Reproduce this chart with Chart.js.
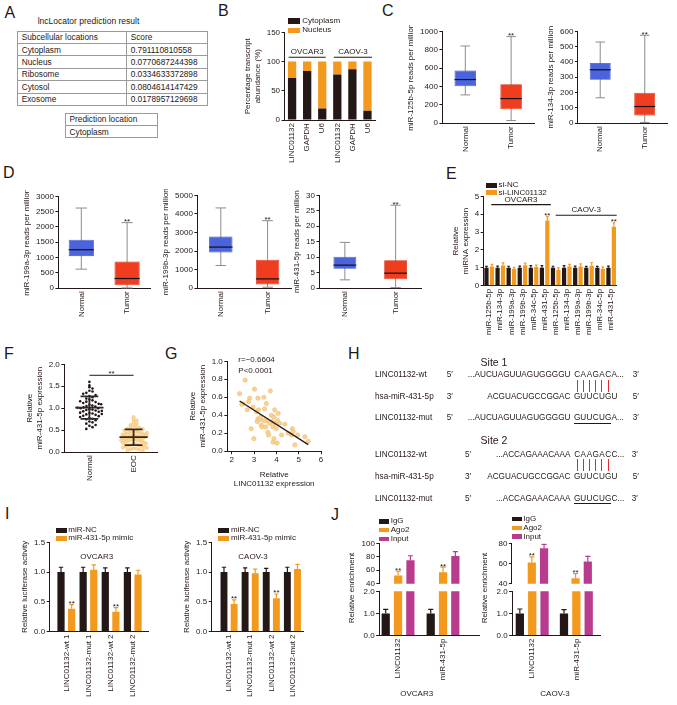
<!DOCTYPE html>
<html><head><meta charset="utf-8">
<script src="https://cdn.jsdelivr.net/npm/chart.js@4.4.1/dist/chart.umd.min.js"></script>
<style>
html,body{margin:0;padding:0;background:#fff}
body{width:677px;height:705px;position:relative;overflow:hidden;font-family:"Liberation Sans",Arial,Helvetica,sans-serif;color:#231815}
.abs{position:absolute}
.t{position:absolute;white-space:nowrap;line-height:1}
.r{position:absolute}
</style></head><body>
<script>
// ================= DATA =================
const locations = ['Cytoplasm','Nucleus','Ribosome','Cytosol','Exosome'];
const locScores = ['0.791110810558','0.0770687244398','0.0334633372898','0.0804614147429','0.0178957129698'];
const predLocation = 'Cytoplasm';

const fracCats = ['LINC01132','GAPDH','U6','LINC01132','GAPDH','U6'];
const cytoplasmPct = [72,84,20,78,87,16];
const nucleusPct = [28,16,80,22,13,84];

const boxCats = ['Normal','Tumor'];
// [min, q1, median, q3, max]
const mir125bNormal = [308,402,475,573,840];
const mir125bTumor  = [29,152,268,424,942];
const mir134Normal  = [166,284,349,393,530];
const mir134Tumor   = [5,50,109,199,574];
const mir199aNormal = [622,1047,1256,1583,2617];
const mir199aTumor  = [10,98,317,873,2140];
const mir199bNormal = [1220,1922,2214,2786,4320];
const mir199bTumor  = [54,194,502,1528,3634];
const mir431Normal  = [2.7,6.25,7.45,10.2,14.8];
const mir431Tumor   = [0.2,2.9,4.86,9.07,26.8];

const mirCats = ['miR-125b-5p','miR-134-3p','miR-199a-3p','miR-199b-3p','miR-34c-5p','miR-431-5p',
                 'miR-125b-5p','miR-134-3p','miR-199a-3p','miR-199b-3p','miR-34c-5p','miR-431-5p'];
const siNC      = [1,1,1,1,1,1,1,1,1,1,1,1];
const siNCErr   = [0.08,0.1,0.09,0.1,0.12,0.12,0.09,0.12,0.1,0.08,0.08,0.1];
const siLINC    = [1.08,1.13,0.95,1.15,1.05,3.65,0.9,1.07,1.08,1.12,0.95,3.3];
const siLINCErr = [0.12,0.15,0.08,0.12,0.1,0.22,0.1,0.12,0.14,0.18,0.1,0.22];

const fCats = ['Normal','EOC'];
const fNormal = [1.60,1.52,1.48,1.45,1.40,1.38,1.35,1.30,1.28,1.25,1.22,1.20,1.18,1.15,1.14,1.12,1.10,1.08,1.06,1.05,
                 1.04,1.02,1.00,1.00,0.98,0.97,0.96,0.95,0.93,0.92,0.90,0.89,0.88,0.86,0.85,0.83,0.82,0.80,0.78,0.76,
                 0.75,0.73,0.70,0.68,0.65,0.62,0.60,0.57,0.53,1.33,1.16,1.09,1.01,0.94,0.87];
const fEOC = [0.80,0.75,0.72,0.68,0.65,0.62,0.60,0.58,0.56,0.55,0.53,0.52,0.50,0.49,0.48,0.47,0.46,0.45,0.44,0.43,
              0.42,0.41,0.40,0.40,0.39,0.38,0.37,0.36,0.36,0.35,0.34,0.34,0.33,0.32,0.31,0.30,0.30,0.29,0.28,0.28,
              0.27,0.26,0.25,0.25,0.24,0.23,0.22,0.21,0.20,0.19,0.18,0.17,0.16,0.15,0.14,0.13,0.12,0.11,0.10,0.09,
              0.08,0.07,0.06,0.05,0.04,0.35,0.31,0.27,0.38,0.44];

const gLinc = [2.35,2.60,2.50,2.45,2.69,2.80,2.75,2.87,3.02,2.95,2.99,3.17,3.20,3.17,3.14,3.25,3.32,3.35,3.44,3.47,
               3.55,3.52,3.59,3.62,3.65,3.73,3.77,3.80,3.85,3.89,3.92,3.95,4.00,3.89,3.85,4.03,4.08,4.05,4.15,4.23,
               4.38,4.53,4.72,4.75,4.68,4.83,4.95,5.28,5.43,3.70,3.44,3.10,3.29];
const gMir  = [0.64,0.79,0.53,0.52,0.46,0.59,0.55,0.25,0.69,0.49,0.14,0.59,0.46,0.36,0.33,0.35,0.29,0.27,0.60,0.47,
               0.53,0.27,0.34,0.21,0.18,0.67,0.40,0.33,0.27,0.38,0.46,0.31,0.25,0.14,0.10,0.09,0.42,0.34,0.31,0.18,
               0.30,0.20,0.25,0.22,0.18,0.07,0.18,0.16,0.11,0.31,0.34,0.44,0.38];
const gTicksX = [2,3,4,5,6];

const lucCats = ['LINC01132-wt 1','LINC01132-mut 1','LINC01132-wt 2','LINC01132-mut 2'];
const ovNC = [1,1,1,1],       ovNCErr = [0.08,0.08,0.07,0.07];
const ovMimic = [0.38,1.04,0.33,0.96], ovMimicErr = [0.07,0.08,0.07,0.07];
const caNC = [1,1,1,1],       caNCErr = [0.08,0.07,0.06,0.08];
const caMimic = [0.46,0.98,0.56,1.05], caMimicErr = [0.07,0.07,0.07,0.08];

const ripCats = ['LINC01132','miR-431-5p'];
const ovIgG = [1,1],   ovIgGErr = [0.18,0.18];
const ovAgo2 = [52,57], ovAgo2Err = [6.5,7.5];
const ovInput = [75,81], ovInputErr = [6.5,6.5];
const caIgG = [1,1],   caIgGErr = [0.2,0.17];
const caAgo2 = [61,45.5], caAgo2Err = [5.5,4.5];
const caInput = [75,62], caInputErr = [4,5];

// ================= STYLE =================
const BLACK='#231815', ORANGE='#f39a1e', MAGENTA='#b83b8e', BLUE='#4b63db', BLUE_D='#3b50c0',
      RED='#f03d1f', RED_D='#d33016', GRAY='#8c8c8c', LINE_RED='#e8262c';
const FONT = '"Liberation Sans", Arial, sans-serif';
Chart.defaults.font.family = FONT;
Chart.defaults.font.size = 8;
Chart.defaults.color = BLACK;
Chart.defaults.animation = false;
Chart.defaults.plugins.legend.display = false;
Chart.defaults.plugins.tooltip.enabled = false;

// ================= HTML helpers =================
function T(s, x, y, fs, align, extra) {
  const d = document.createElement('div'); d.className = 't'; d.textContent = s;
  d.style.fontSize = fs + 'px'; d.style.left = x + 'px'; d.style.top = (y - fs / 2) + 'px';
  if (align === 'c') d.style.transform = 'translateX(-50%)';
  else if (align === 'r') d.style.transform = 'translateX(-100%)';
  if (extra) Object.assign(d.style, extra);
  document.body.appendChild(d); return d;
}
function R(x, y, w, h, c) {
  const d = document.createElement('div'); d.className = 'r';
  Object.assign(d.style, {left: x + 'px', top: y + 'px', width: w + 'px', height: h + 'px', background: c});
  document.body.appendChild(d); return d;
}
function VT(s, cx, cy, fs) {
  const d = document.createElement('div'); d.className = 't'; d.textContent = s;
  Object.assign(d.style, {fontSize: fs + 'px', left: cx + 'px', top: cy + 'px', transform: 'translate(-50%,-50%) rotate(-90deg)'});
  document.body.appendChild(d); return d;
}

// ================= Chart helpers =================
function makeChart(rect, cfg) {
  const div = document.createElement('div'); div.className = 'abs';
  const cv = document.createElement('canvas');
  const W0 = Math.round(rect.w + 140), H0 = Math.round(rect.h + 140);
  cv.width = W0; cv.height = H0; cv.style.width = W0 + 'px'; cv.style.height = H0 + 'px';
  div.appendChild(cv); document.body.appendChild(div);
  cfg.options = Object.assign({responsive:false, maintainAspectRatio:false, animation:false, devicePixelRatio:1,
    events:[], layout:{padding:{top:6,right:6,left:2,bottom:2}}}, cfg.options || {});
  const ch = new Chart(cv, cfg);
  let ca = ch.chartArea;
  const W = W0 + (rect.w - (ca.right - ca.left));
  const H = H0 + (rect.h - (ca.bottom - ca.top));
  ch.resize(Math.round(W), Math.round(H));
  ca = ch.chartArea;
  div.style.left = Math.round(rect.x - ca.left) + 'px';
  div.style.top = Math.round(rect.y - ca.top) + 'px';
  return ch;
}
function yLin(min, max, step, title, dec) {
  return { type:'linear', min, max,
    afterBuildTicks: s => { const t = []; for (let v = min; v <= max + 1e-9; v += step) t.push({value: +v.toFixed(6)}); s.ticks = t; },
    ticks:{ padding:1.5, callback: v => dec == null ? String(v) : Number(v).toFixed(dec) },
    grid:{ display:true, drawOnChartArea:false, drawTicks:true, tickLength:3, color:BLACK, lineWidth:1 },
    border:{ display:true, color:BLACK, width:1 },
    title:{ display: !!title, text: title || '', padding:{top:0,bottom:3}, color:BLACK } };
}
function xCat() {
  return { type:'category', offset:true,
    ticks:{ autoSkip:false, maxRotation:90, minRotation:90, padding:3 },
    grid:{ display:true, drawOnChartArea:false, drawTicks:false, color:BLACK },
    border:{ display:true, color:BLACK, width:1 } };
}
function xIdx(labels, min, max, start) {
  start = start || 0;
  return { type:'linear', min, max, offset:false,
    afterBuildTicks: s => { s.ticks = labels.map((_, i) => ({value: i + start})); },
    ticks:{ autoSkip:false, maxRotation:90, minRotation:90, padding:3, callback: v => labels[Math.round(v - start)] },
    grid:{ display:true, drawOnChartArea:false, drawTicks:false, color:BLACK, offset:false },
    border:{ display:true, color:BLACK, width:1 } };
}
const pts = arr => arr.map((y, i) => ({x: i, y}));

// error bars + stars, drawn through the chart's scales
const errPlugin = {
  id:'errbars',
  afterDatasetsDraw(chart) {
    const {ctx, chartArea:a} = chart; const ys = chart.scales.y;
    ctx.save(); ctx.beginPath(); ctx.rect(a.left - 6, a.top, a.right - a.left + 12, a.bottom - a.top); ctx.clip();
    chart.data.datasets.forEach((ds, di) => {
      if (!ds.errors) return;
      const meta = chart.getDatasetMeta(di);
      meta.data.forEach((el, i) => {
        const raw = ds.data[i]; const v = typeof raw === 'object' ? raw.y : raw;
        const yTop = ys.getPixelForValue(v + ds.errors[i]);
        const yV = ys.getPixelForValue(v);
        const cw = el.width * 0.62;
        ctx.strokeStyle = ds.backgroundColor; ctx.lineWidth = 1.2;
        ctx.beginPath(); ctx.moveTo(el.x, yV); ctx.lineTo(el.x, yTop);
        ctx.moveTo(el.x - cw / 2, yTop); ctx.lineTo(el.x + cw / 2, yTop); ctx.stroke();
        if (ds.stars && ds.stars[i]) {
          ctx.fillStyle = BLACK; ctx.font = '8px ' + FONT; ctx.textAlign = 'center'; ctx.textBaseline = 'alphabetic';
          ctx.fillText('**', el.x, yTop + 1.3);
        }
      });
    });
    ctx.restore();
  }
};
function groupPlugin(items) {
  return { id:'groups', afterDatasetsDraw(chart) {
    const {ctx} = chart; const xs = chart.scales.x, ys = chart.scales.y;
    ctx.save(); ctx.strokeStyle = BLACK; ctx.fillStyle = BLACK; ctx.lineWidth = 1.2;
    ctx.font = '8px ' + FONT; ctx.textAlign = 'center'; ctx.textBaseline = 'alphabetic';
    items.forEach(g => {
      const x1 = xs.getPixelForValue(g.from), x2 = xs.getPixelForValue(g.to), y = ys.getPixelForValue(g.y);
      ctx.beginPath(); ctx.moveTo(x1, y); ctx.lineTo(x2, y); ctx.stroke();
      ctx.fillText(g.label, (x1 + x2) / 2, y - 3);
    });
    ctx.restore();
  }};
}
function boxPlugin(stats, stars) {
  return { id:'boxes',
    beforeDatasetsDraw(chart) {
      const {ctx} = chart; const ys = chart.scales.y; const els = chart.getDatasetMeta(0).data;
      ctx.save(); ctx.strokeStyle = GRAY; ctx.lineWidth = 1;
      stats.forEach((s, i) => {
        const x = els[i].x, cw = els[i].width * 0.45;
        const y0 = ys.getPixelForValue(s[0]), y4 = ys.getPixelForValue(s[4]);
        ctx.beginPath(); ctx.moveTo(x, y0); ctx.lineTo(x, y4);
        ctx.moveTo(x - cw / 2, y0); ctx.lineTo(x + cw / 2, y0);
        ctx.moveTo(x - cw / 2, y4); ctx.lineTo(x + cw / 2, y4); ctx.stroke();
      });
      ctx.restore();
    },
    afterDatasetsDraw(chart) {
      const {ctx} = chart; const ys = chart.scales.y; const els = chart.getDatasetMeta(0).data;
      ctx.save(); ctx.strokeStyle = '#111'; ctx.lineWidth = 1.2;
      stats.forEach((s, i) => {
        const x = els[i].x, w = els[i].width, ym = ys.getPixelForValue(s[2]);
        ctx.beginPath(); ctx.moveTo(x - w / 2, ym); ctx.lineTo(x + w / 2, ym); ctx.stroke();
        if (stars[i]) {
          ctx.fillStyle = BLACK; ctx.font = '8px ' + FONT; ctx.textAlign = 'center'; ctx.textBaseline = 'alphabetic';
          ctx.fillText('**', x, ys.getPixelForValue(s[4]) + 1.3);
        }
      });
      ctx.restore();
    }
  };
}
function boxChart(rect, normal, tumor, min, max, step, title, bp) {
  return makeChart(rect, { type:'bar',
    data:{ labels: boxCats, datasets:[{ data:[[normal[1], normal[3]], [tumor[1], tumor[3]]],
      backgroundColor:[BLUE, RED], borderColor:[BLUE_D, RED_D], borderWidth:0.8, borderSkipped:false }] },
    options:{ datasets:{bar:{barPercentage:bp, categoryPercentage:1}},
      scales:{ x: xCat(), y: yLin(min, max, step, title) } },
    plugins:[boxPlugin([normal, tumor], [false, true])] });
}
function swarm(vals, center, maxHalf) {
  const binW = 0.1, counts = {}, seen = {};
  vals.forEach(v => { const b = Math.floor(v / binW); counts[b] = (counts[b] || 0) + 1; });
  return vals.map(v => {
    const b = Math.floor(v / binW); const j = seen[b] = (seen[b] || 0); seen[b]++;
    const dx = Math.min(0.07, 2 * maxHalf / counts[b]);
    const off = j === 0 ? 0 : (j % 2 ? 1 : -1) * Math.ceil(j / 2) * dx;
    return {x: center + off, y: v};
  });
}
function meanSdPlugin(sig) {
  return { id:'meansd', afterDatasetsDraw(chart) {
    const {ctx} = chart; const xs = chart.scales.x, ys = chart.scales.y;
    ctx.save();
    chart.data.datasets.forEach(ds => {
      if (!ds.values) return;
      const n = ds.values.length, m = ds.values.reduce((a, b) => a + b, 0) / n;
      const sd = Math.sqrt(ds.values.reduce((a, b) => a + (b - m) * (b - m), 0) / (n - 1));
      const xc = xs.getPixelForValue(ds.center);
      const hw = xs.getPixelForValue(ds.center + 0.32) - xc, cw = xs.getPixelForValue(ds.center + 0.2) - xc;
      const ym = ys.getPixelForValue(m), yh = ys.getPixelForValue(m + sd), yl = ys.getPixelForValue(m - sd);
      ctx.strokeStyle = ds.meanColor; ctx.lineWidth = 1.8;
      ctx.beginPath(); ctx.moveTo(xc - hw, ym); ctx.lineTo(xc + hw, ym);
      ctx.moveTo(xc, yh); ctx.lineTo(xc, yl);
      ctx.moveTo(xc - cw, yh); ctx.lineTo(xc + cw, yh);
      ctx.moveTo(xc - cw, yl); ctx.lineTo(xc + cw, yl); ctx.stroke();
    });
    const x1 = xs.getPixelForValue(sig.from), x2 = xs.getPixelForValue(sig.to), y = ys.getPixelForValue(sig.y);
    ctx.strokeStyle = BLACK; ctx.lineWidth = 1;
    ctx.beginPath(); ctx.moveTo(x1, y); ctx.lineTo(x2, y); ctx.stroke();
    ctx.fillStyle = BLACK; ctx.font = '8px ' + FONT; ctx.textAlign = 'center'; ctx.textBaseline = 'alphabetic';
    ctx.fillText('**', (x1 + x2) / 2, y + 0.5);
    ctx.restore();
  }};
}
function linFit(xs, ys) {
  const n = xs.length, mx = xs.reduce((a, b) => a + b, 0) / n, my = ys.reduce((a, b) => a + b, 0) / n;
  let sxy = 0, sxx = 0; xs.forEach((x, i) => { sxy += (x - mx) * (ys[i] - my); sxx += (x - mx) * (x - mx); });
  const b = sxy / sxx, a = my - b * mx; return x => a + b * x;
}

// ================= PANEL LABELS =================
[['A',4.5,12.5],['B',218,11],['C',382,11],['D',3,172.5],['E',446,173.5],['F',4,354],['G',165,354],
 ['H',348,353.5],['I',5,514],['J',331,514.5]].forEach(p => T(p[0], p[1], p[2], 16));

// ================= A: table =================
T('lncLocator prediction result', 37.7, 21.5, 8.5);
(function(){
  const x0 = 16.7, x1 = 125.7, x2 = 207.3, y0 = 30.7, rh = 12.38, C = '#9a9a9a';
  const rows = [['Subcellular locations','Score']].concat(locations.map((l, i) => [l, locScores[i]]));
  for (let k = 0; k <= rows.length; k++) R(x0, y0 + k * rh, x2 - x0, 1, C);
  [x0, x1, x2].forEach(x => R(x, y0, 1, rh * rows.length + 1, C));
  rows.forEach((r, k) => { T(r[0], x0 + 5, y0 + rh * (k + 0.5) + 0.5, 8.3); T(r[1], x1 + 5, y0 + rh * (k + 0.5) + 0.5, 8.3); });
  const bx0 = 65, bx1 = 156.7, by0 = 112.7, brh = 12.3;
  for (let k = 0; k <= 2; k++) R(bx0, by0 + k * brh, bx1 - bx0, 1, C);
  [bx0, bx1].forEach(x => R(x, by0, 1, brh * 2 + 1, C));
  T('Prediction location', bx0 + 4.5, by0 + brh * 0.5 + 0.5, 8.3);
  T(predLocation, bx0 + 4.5, by0 + brh * 1.5 + 0.5, 8.3);
})();

// ================= B =================
makeChart({x:285, y:32, w:90, h:88}, { type:'bar',
  data:{ labels: fracCats, datasets:[
    {data: cytoplasmPct, backgroundColor: BLACK, stack:'s'},
    {data: nucleusPct, backgroundColor: ORANGE, stack:'s'}] },
  options:{ datasets:{bar:{barPercentage:0.55, categoryPercentage:1}},
    scales:{ x: Object.assign(xCat(), {stacked:true}), y: Object.assign(yLin(0,150,50,['Percentage transcript','abundance (%)']), {stacked:true}) } },
  plugins:[groupPlugin([{label:'OVCAR3', from:-0.23, to:2.23, y:107.4},{label:'CAOV-3', from:2.77, to:5.3, y:107.4}])] });
R(288.3, 18.3, 12, 5.5, BLACK); T('Cytoplasm', 302.3, 20.7, 8);
R(288.3, 27.7, 12, 5.5, ORANGE); T('Nucleus', 302.3, 30, 8);

// ================= C =================
boxChart({x:442, y:31, w:92, h:92}, mir125bNormal, mir125bTumor, 0, 1000, 200, 'miR-125b-5p reads per million', 0.47);
boxChart({x:578, y:31, w:89, h:91.7}, mir134Normal, mir134Tumor, 0, 600, 100, 'miR-134-3p reads per million', 0.47);

// ================= D =================
boxChart({x:58.7, y:196, w:91.3, h:91.7}, mir199aNormal, mir199aTumor, 0, 3000, 500, 'miR-199a-3p reads per million', 0.55);
boxChart({x:197.7, y:195.7, w:94, h:92.6}, mir199bNormal, mir199bTumor, 0, 5000, 1000, 'miR-199b-3p reads per million', 0.5);
boxChart({x:319.3, y:195.7, w:101.7, h:92.6}, mir431Normal, mir431Tumor, 0, 30, 5, 'miR-431-5p reads per million', 0.45);

// ================= E =================
makeChart({x:484, y:196, w:134, h:89.7}, { type:'bar',
  data:{ labels: mirCats, datasets:[
    {data: siNC, backgroundColor: BLACK, errors: siNCErr},
    {data: siLINC, backgroundColor: ORANGE, errors: siLINCErr, stars:[0,0,0,0,0,1,0,0,0,0,0,1]}] },
  options:{ datasets:{bar:{barPercentage:0.78, categoryPercentage:0.98}},
    scales:{ x: xCat(), y: yLin(0,5,1,['Relative','miRNA expression']) } },
  plugins:[errPlugin, groupPlugin([{label:'OVCAR3', from:0.19, to:5.56, y:4.54},{label:'CAOV-3', from:6.0, to:11.5, y:3.94}])] });
R(486, 182.5, 10.5, 5, BLACK); T('si-NC', 498.5, 185, 8);
R(486, 190.2, 10.5, 5, ORANGE); T('si-LINC01132', 498.5, 192.7, 8);

// ================= F =================
makeChart({x:64.3, y:364, w:92.4, h:88.3}, { type:'scatter',
  data:{ datasets:[
    {data: swarm(fNormal, 1, 0.3), values: fNormal, center:1, meanColor:'#2a2a2a', pointRadius:1.3, backgroundColor:BLACK, borderWidth:0},
    {data: swarm(fEOC, 2, 0.3), values: fEOC, center:2, meanColor:'#3a2614', pointRadius:1.6, backgroundColor:'#fbdca0', borderColor:'#f1b75a', borderWidth:0.5}] },
  options:{ scales:{ x: xIdx(fCats, 0.432, 2.53, 1), y: yLin(0,2,0.5,['Relative','miR-431-5p expression'],1) } },
  plugins:[meanSdPlugin({from:1, to:2, y:1.75})] });

// ================= G =================
(function(){
  const fit = linFit(gLinc, gMir);
  const xmin = Math.min(...gLinc), xmax = Math.max(...gLinc);
  makeChart({x:227.7, y:361.7, w:93.3, h:90}, { type:'scatter',
    data:{ datasets:[
      {type:'line', data:[{x:xmin, y:fit(xmin)},{x:xmax, y:fit(xmax)}], borderColor:BLACK, borderWidth:1.3, pointRadius:0},
      {data: gLinc.map((x, i) => ({x, y: gMir[i]})), pointRadius:2.1, backgroundColor:'#f9d396', borderColor:'#f0b562', borderWidth:0.6}] },
    options:{ scales:{
      x:{ type:'linear', min:1.8, max:6, afterBuildTicks: s => { s.ticks = gTicksX.map(v => ({value:v})); },
          ticks:{ padding:1, maxRotation:0, callback: v => String(v) },
          grid:{ display:true, drawOnChartArea:false, drawTicks:true, tickLength:3, color:BLACK },
          border:{ display:true, color:BLACK, width:1 },
          title:{ display:true, text:['Relative','LINC01132 expression'], padding:{top:4,bottom:0} } },
      y: yLin(0,1,0.2,['Relative','miR-431-5p expression'],1) } } });
})();
T('r=−0.6604', 238.3, 359.5, 8);
T('P<0.0001', 238.3, 370.5, 8);

// ================= H =================
(function(){
  const fs = 8.2, px = 574, cw = 6.2;
  function row(y, label, p1, p1x, pre, pair, tail, p2, p2x, ul) {
    T(label, 375, y, fs); T(p1, p1x, y, fs); T(pre, 570.5, y, fs, 'r');
    pair.split('').forEach((c, i) => T(c, px + cw * i + cw / 2, y, fs, 'c'));
    T(tail, px + cw * 6 + 0.3, y, fs); T(p2, p2x, y, fs);
    if (ul) R(px, Math.round(y + 4.4), cw * 6, 1, BLACK);
  }
  T('Site 1', 494, 362, 10.5, 'c');
  row(375, 'LINC01132-wt', '5′', 446.7, '...AUCUAGUUAGUGGGGU', 'CAAGAC', 'A...', '3′', 632.7);
  row(396.7, 'hsa-miR-431-5p', '3′', 446.7, 'ACGUACUGCCGGAC', 'GUUCUG', 'U', '5′', 632.7);
  row(418.3, 'LINC01132-mut', '5′', 446.7, '...AUCUAGUUAGUGGGGU', 'GUUCUG', 'A...', '3′', 632.7, true);
  T('Site 2', 494, 440, 10.5, 'c');
  row(455, 'LINC01132-wt', '5′', 465, '...ACCAGAAACAAA', 'CAAGAC', 'C...', '3′', 631.7);
  row(476.7, 'hsa-miR-431-5p', '3′', 465, 'ACGUACUGCCGGAC', 'GUUCUG', 'U', '5′', 632.7);
  row(499, 'LINC01132-mut', '5′', 465, '...ACCAGAAACAAA', 'GUUCUG', 'C...', '3′', 631.7, true);
  for (let i = 0; i < 6; i++) {
    const lx = Math.round(px + cw * i + cw / 2 - 0.5);
    R(lx, 380, 1, 12, LINE_RED);
    R(lx, 459, 1, 12, LINE_RED);
  }
})();

// ================= I =================
function lucChart(rect, nc, ncErr, mimic, mimicErr, min, max) {
  return makeChart(rect, { type:'bar',
    data:{ datasets:[
      {data: pts(nc), backgroundColor: BLACK, errors: ncErr},
      {data: pts(mimic), backgroundColor: ORANGE, errors: mimicErr, stars:[1,0,1,0]}] },
    options:{ datasets:{bar:{barPercentage:0.68, categoryPercentage:0.96}},
      scales:{ x: xIdx(lucCats, min, max, 0), y: yLin(0,1.5,0.5,'Relative luciferase activity',1) } },
    plugins:[errPlugin] });
}
lucChart({x:49.3, y:542.3, w:98.7, h:89.4}, ovNC, ovNCErr, ovMimic, ovMimicErr, -0.75, 3.69);
lucChart({x:211.7, y:542.3, w:91.6, h:89.4}, caNC, caNCErr, caMimic, caMimicErr, -0.82, 3.5);
R(56, 527.7, 10.7, 5, BLACK); T('miR-NC', 68.3, 530, 8);
R(56, 535.8, 10.7, 5, ORANGE); T('miR-431-5p mimic', 68.3, 538.3, 8);
R(218.3, 527.7, 10.7, 5, BLACK); T('miR-NC', 231, 530, 8);
R(218.3, 535.8, 10.7, 5, ORANGE); T('miR-431-5p mimic', 231, 538.3, 8);
T('OVCAR3', 96.7, 556.7, 8, 'c');
T('CAOV-3', 253, 556.7, 8, 'c');

// ================= J =================
function ripCharts(x, w, min, max, igg, iggErr, ago, agoErr, inp, inpErr, upMax, upStep, cp) {
  const sets = (stars) => [
    {data: pts(igg), backgroundColor: BLACK, errors: iggErr, clip:0},
    {data: pts(ago), backgroundColor: ORANGE, errors: agoErr, stars: stars ? [1,1] : null, clip:0},
    {data: pts(inp), backgroundColor: MAGENTA, errors: inpErr, clip:0}];
  const xu = xIdx(ripCats, min, max, 0); xu.display = false;
  makeChart({x, y:543.3, w, h:40.7}, { type:'bar', data:{datasets: sets(true)},
    options:{ datasets:{bar:{barPercentage:0.67, categoryPercentage:cp}},
      scales:{ x: xu, y: yLin(40, upMax, upStep, null) } }, plugins:[errPlugin] });
  makeChart({x, y:591.7, w, h:40.6}, { type:'bar', data:{datasets: sets(false)},
    options:{ datasets:{bar:{barPercentage:0.67, categoryPercentage:cp}},
      scales:{ x: xIdx(ripCats, min, max, 0), y: yLin(0, 2, 0.5, null, 1) } }, plugins:[errPlugin] });
}
ripCharts(379.3, 100, -0.42, 1.8, ovIgG, ovIgGErr, ovAgo2, ovAgo2Err, ovInput, ovInputErr, 100, 20, 0.82);
ripCharts(511.7, 87.6, -0.455, 1.536, caIgG, caIgGErr, caAgo2, caAgo2Err, caInput, caInputErr, 80, 10, 0.84);
VT('Relative enrichment', 351.7, 588, 8);
VT('Relative enrichment', 485, 588, 8);
R(379.3, 519, 10, 4.6, BLACK); T('IgG', 390.7, 521.3, 8);
R(379.3, 527.7, 10, 4.6, ORANGE); T('Ago2', 390.7, 530, 8);
R(379.3, 536.7, 10, 4.6, MAGENTA); T('Input', 390.7, 539, 8);
R(511.7, 516.7, 10, 4.6, BLACK); T('IgG', 523.3, 519, 8);
R(511.7, 525.7, 10, 4.6, ORANGE); T('Ago2', 523.3, 528, 8);
R(511.7, 534.4, 10, 4.6, MAGENTA); T('Input', 523.3, 537, 8);
T('OVCAR3', 416.7, 694, 8, 'c');
T('CAOV-3', 555, 694, 8, 'c');
</script>
</body></html>
